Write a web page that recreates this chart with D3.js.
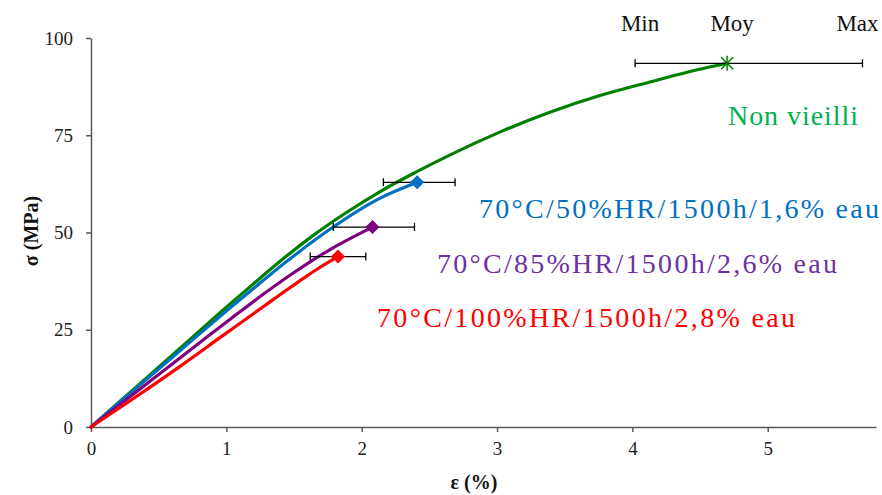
<!DOCTYPE html>
<html><head><meta charset="utf-8">
<script src="https://cdn.jsdelivr.net/npm/d3@7"></script>
<style>
html,body{margin:0;padding:0;background:#fff;}
svg text{font-family:"Liberation Serif","Times New Roman",serif !important;}
</style></head>
<body><svg id="chart" width="882" height="495"></svg>
<script>
// ---- data ----
const xTicks = [0, 1, 2, 3, 4, 5];
const yTicks = [0, 25, 50, 75, 100];

const greenStrain = [0, 0.25, 0.5, 0.75, 1.0, 1.2, 1.44, 1.64, 1.89, 2.13, 2.40, 2.65, 3.02, 3.39, 3.76, 4.13, 4.49, 4.70];
const greenStress = [0, 7.7, 15.4, 23.1, 30.8, 36.8, 43.8, 49.2, 55.2, 60.4, 65.5, 69.9, 75.8, 80.9, 85.2, 88.7, 91.9, 93.5];

const blueStrain = [0, 0.25, 0.5, 0.75, 1.0, 1.2, 1.44, 1.76, 2.13, 2.41];
const blueStress = [0, 7.5, 14.9, 22.4, 29.8, 35.6, 42.4, 50.7, 58.7, 62.9];

const purpleStrain = [0, 0.3, 0.6, 0.8, 1.05, 1.28, 1.47, 1.76, 2.08];
const purpleStress = [0, 8.1, 16.2, 21.6, 28.3, 34.3, 39.0, 45.5, 51.4];

const redStrain = [0, 0.3, 0.65, 0.95, 1.05, 1.28, 1.44, 1.54, 1.69, 1.825];
const redStress = [0, 7.0, 15.4, 22.9, 25.4, 31.1, 35.1, 37.5, 41.0, 43.8];

// mean points with min/max strain error bars
const seriesNames = ["Non vieilli", "70°C/50%HR/1500h/1,6% eau", "70°C/85%HR/1500h/2,6% eau", "70°C/100%HR/1500h/2,8% eau"];
const meanStrain = [4.70, 2.41, 2.08, 1.825];
const meanStress = [93.5, 62.9, 51.4, 43.8];
const minStrain = [4.02, 2.16, 1.79, 1.62];
const maxStrain = [5.70, 2.69, 2.39, 2.03];
const markerTypes = ["star", "diamond", "diamond", "diamond"];
const barLabels = ["Min", "Moy", "Max"];

// ---- styles ----
const curveColors = ["#008000", "#0070c0", "#800080", "#ff0000"];
const labelColors = ["#00b050", "#0070c0", "#7030a0", "#ff0000"];
const serif = "'Liberation Serif', 'Times New Roman', serif";

const svg = d3.select("#chart");
const x = d3.scaleLinear().domain([0, 5.8]).range([91, 876]);
const y = d3.scaleLinear().domain([0, 100]).range([427, 38]);

// axes
const axisColor = "#595959";
const gx = svg.append("g").attr("transform", `translate(0,${y(0)})`)
  .call(d3.axisBottom(x).tickValues(xTicks).tickFormat(d3.format("d")).tickSize(5).tickPadding(10).tickSizeOuter(0));
const gy = svg.append("g").attr("transform", `translate(${x(0)},0)`)
  .call(d3.axisLeft(y).tickValues(yTicks).tickFormat(d3.format("d")).tickSize(5).tickPadding(13).tickSizeOuter(0));
[gx, gy].forEach(g => {
  g.attr("font-family", serif);
  g.select(".domain").attr("stroke", axisColor).attr("stroke-width", 1.5);
  g.selectAll(".tick line").attr("stroke", axisColor).attr("stroke-width", 1.5);
  g.selectAll(".tick text").attr("fill", "#222").attr("font-size", 19).style("font-size", "19px");
});

// axis titles
svg.append("text").attr("x", 474).attr("y", 489).attr("text-anchor", "middle")
  .style("font-size", "20px").style("font-weight", "bold").attr("fill", "#111").text("ε (%)");
svg.append("text").attr("transform", "translate(38,231) rotate(-90)").attr("text-anchor", "middle")
  .style("font-size", "20px").style("font-weight", "bold").attr("fill", "#111").text("σ (MPa)");

// curves
const curves = [
  [greenStrain, greenStress],
  [blueStrain, blueStress],
  [purpleStrain, purpleStress],
  [redStrain, redStress]
];
const line = d3.line().x(d => x(d[0])).y(d => y(d[1])).curve(d3.curveMonotoneX);
curves.forEach((c, i) => {
  const pts = c[0].map((v, j) => [v, c[1][j]]);
  svg.append("path").datum(pts).attr("d", line)
    .attr("fill", "none").attr("stroke", curveColors[i]).attr("stroke-width", 3.2)
    .attr("stroke-linejoin", "round").attr("stroke-linecap", "round");
});

// error bars
meanStrain.forEach((m, i) => {
  const g = svg.append("g").attr("stroke", "#000").attr("stroke-width", 1.3);
  const yy = y(meanStress[i]);
  g.append("line").attr("x1", x(minStrain[i])).attr("x2", x(maxStrain[i])).attr("y1", yy).attr("y2", yy);
  [minStrain[i], maxStrain[i]].forEach(v => {
    g.append("line").attr("x1", x(v)).attr("x2", x(v)).attr("y1", yy - 4).attr("y2", yy + 4);
  });
});

// markers
meanStrain.forEach((m, i) => {
  const cx = x(m), cy = y(meanStress[i]);
  if (markerTypes[i] === "diamond") {
    const r = 7;
    svg.append("path").attr("d", `M${cx},${cy - r}L${cx + r},${cy}L${cx},${cy + r}L${cx - r},${cy}Z`)
      .attr("fill", curveColors[i]);
  } else {
    const r = 7.5, g = svg.append("g").attr("stroke", curveColors[i]).attr("stroke-width", 1.5);
    g.append("line").attr("x1", cx).attr("x2", cx).attr("y1", cy - r).attr("y2", cy + r);
    g.append("line").attr("x1", cx - r * 0.8).attr("x2", cx + r * 0.8).attr("y1", cy - r * 0.8).attr("y2", cy + r * 0.8);
    g.append("line").attr("x1", cx - r * 0.8).attr("x2", cx + r * 0.8).attr("y1", cy + r * 0.8).attr("y2", cy - r * 0.8);
  }
});

// Min / Moy / Max labels
const barPos = [minStrain[0], meanStrain[0], maxStrain[0]];
barLabels.forEach((t, i) => {
  svg.append("text").attr("x", x(barPos[i]) + (i === 2 ? -5 : 5)).attr("y", 31).attr("text-anchor", "middle")
    .style("font-size", "23px").attr("fill", "#111").text(t);
});

// series labels
const labelPos = [[728, 125, 130], [479, 218, 400], [437, 273, 400], [377, 327, 418]];
seriesNames.forEach((t, i) => {
  svg.append("text").attr("x", labelPos[i][0]).attr("y", labelPos[i][1])
    .attr("textLength", labelPos[i][2]).attr("lengthAdjust", "spacing")
    .style("font-size", "28px").attr("fill", labelColors[i]).text(t);
});
</script></body></html>
